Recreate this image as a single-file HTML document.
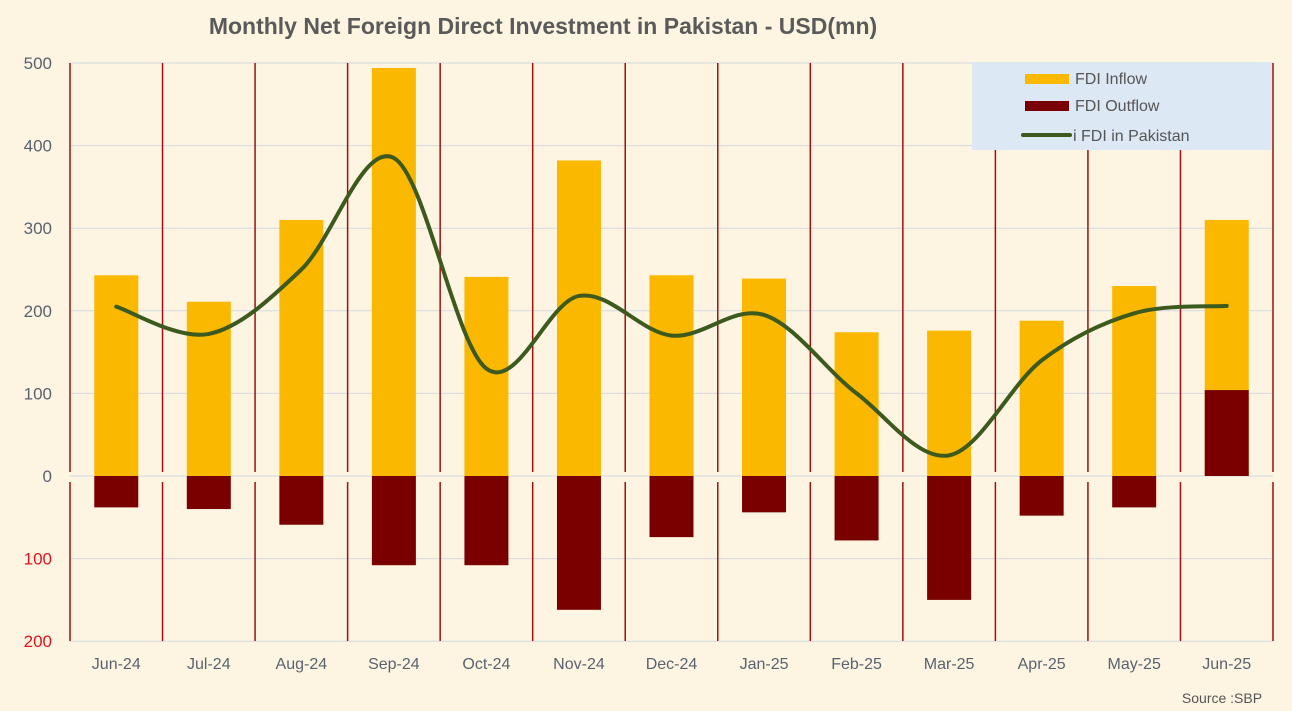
<!DOCTYPE html>
<html><head><meta charset="utf-8"><style>
html,body{margin:0;padding:0;background:#fdf5e2;}
svg{display:block;font-family:"Liberation Sans",Arial,sans-serif;}
</style></head><body>
<svg id="chart" width="1292" height="711" viewBox="0 0 1292 711">
<rect x="0" y="0" width="1292" height="711" fill="#fdf5e2"/>
<text x="543" y="34" text-anchor="middle" font-size="23" font-weight="bold" fill="#5a5a5a">Monthly Net Foreign Direct Investment in Pakistan - USD(mn)</text>
<g id="grid"></g><g id="bars"></g><g id="line"></g><g id="axes"></g>
<g>
<rect x="972" y="62" width="300" height="88" fill="#dce8f3"/>
<rect x="1025" y="74" width="44" height="10" fill="#fbb800"/>
<text x="1075" y="84" font-size="16" fill="#555">FDI Inflow</text>
<rect x="1025" y="101" width="44" height="10" fill="#7a0000"/>
<text x="1075" y="111" font-size="16" fill="#555">FDI Outflow</text>
<line x1="1023" y1="135" x2="1070" y2="135" stroke="#3d5a1e" stroke-width="4" stroke-linecap="round"/>
<text x="1073" y="141" font-size="16" fill="#555">i FDI in Pakistan</text>
</g>
<text x="1222" y="703" text-anchor="middle" font-size="14" fill="#555">Source :SBP</text>
</svg>
<script>
const categories=["Jun-24","Jul-24","Aug-24","Sep-24","Oct-24","Nov-24","Dec-24","Jan-25","Feb-25","Mar-25","Apr-25","May-25","Jun-25"];
const inflow=[243,211,310,494,241,382,243,239,174,176,188,230,310];
const outflow=[-38,-40,-59,-108,-108,-162,-74,-44,-78,-150,-48,-38,104];
const netFdi=[205,172,250,385,130,218,170,195,100,25,140,197,206];
const yTicks=[500,400,300,200,100,0,-100,-200];
const yTickLabels=["500","400","300","200","100","0","100","200"];
const NS="http://www.w3.org/2000/svg";
const L=70,R=1273,T=63,B=641;
const step=(R-L)/categories.length;
const x=i=>L+step*(i+0.5);
const y=v=>476-v*0.826;
function mk(tag,attrs,parent){const e=document.createElementNS(NS,tag);for(const k in attrs)e.setAttribute(k,attrs[k]);parent.appendChild(e);return e;}
const grid=document.getElementById('grid'),bars=document.getElementById('bars'),line=document.getElementById('line'),axes=document.getElementById('axes');
yTicks.forEach((t,i)=>{
 const g=mk('line',{x1:L,x2:R,y1:y(t),y2:y(t),stroke:'#d4d8e0','stroke-width':1},grid);
 
 
 const tx=mk('text',{x:52,y:y(t)+6,'text-anchor':'end','font-size':17,fill:t<0?'#e0141e':'#5a6270'},axes);
 tx.textContent=yTickLabels[i];
 
 
});
for(let i=0;i<=categories.length;i++){
 const xx=L+step*i;
 const v1=mk('line',{x1:xx,x2:xx,y1:T,y2:y(0)-4,stroke:'#a01010','stroke-width':1.5},grid);
 
 
 const v2=mk('line',{x1:xx,x2:xx,y1:y(0)+6,y2:B,stroke:'#a01010','stroke-width':1.5},grid);
 
 
}
const bw=44;
categories.forEach((c,i)=>{
 const a=mk('rect',{x:x(i)-bw/2,y:y(inflow[i]),width:bw,height:y(0)-y(inflow[i]),fill:'#fbb800'},bars);
 
 
 const o=outflow[i];
 const b=mk('rect',{x:x(i)-bw/2,y:Math.min(y(o),y(0)),width:bw,height:Math.abs(y(o)-y(0)),fill:'#7a0000'},bars);
 
 
 const t=mk('text',{x:x(i),y:669,'text-anchor':'middle','font-size':16,fill:'#5a6270'},axes);
 t.textContent=c;
 
 
});
const pts=netFdi.map((v,i)=>[x(i),y(v)]);
let d='M'+pts[0][0]+','+pts[0][1];
for(let i=0;i<pts.length-1;i++){
 const p0=pts[Math.max(0,i-1)],p1=pts[i],p2=pts[i+1],p3=pts[Math.min(pts.length-1,i+2)];
 const c1=[p1[0]+(p2[0]-p0[0])/6,p1[1]+(p2[1]-p0[1])/6];
 const c2=[p2[0]-(p3[0]-p1[0])/6,p2[1]-(p3[1]-p1[1])/6];
 d+=' C'+c1+' '+c2+' '+p2;
}
const ln=mk('path',{d:d,fill:'none',stroke:'#3d5a1e','stroke-width':4,'stroke-linecap':'round'},line);


</script>
</body></html>
